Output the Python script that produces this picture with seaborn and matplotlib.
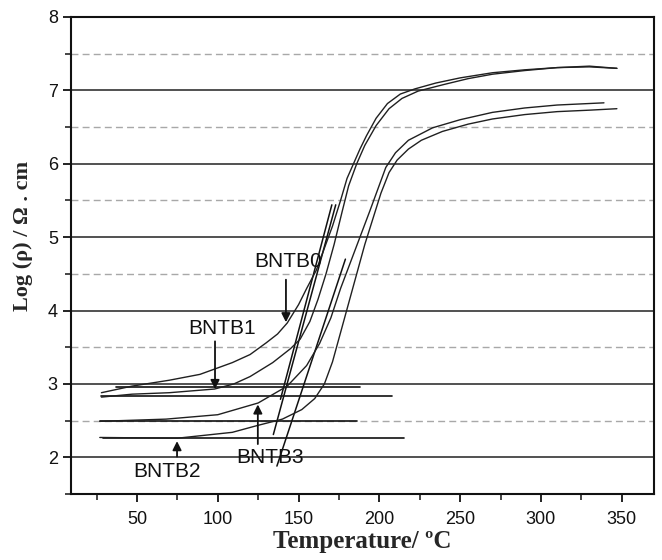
import numpy as np
import pandas as pd
import matplotlib
matplotlib.use('Agg')
import matplotlib.pyplot as plt
import seaborn as sns
from matplotlib.ticker import MultipleLocator

# ---- data ----
b0_T = [28, 47, 70, 89, 109, 120, 130, 137, 143, 150, 155, 161, 166, 171, 176, 180, 184, 188, 192, 198, 205, 213, 222, 235, 250, 270, 290, 310, 330, 347]
b0_R = [2.88, 2.97, 3.05, 3.13, 3.29, 3.40, 3.56, 3.68, 3.83, 4.08, 4.30, 4.55, 4.85, 5.15, 5.50, 5.80, 6.00, 6.20, 6.38, 6.62, 6.82, 6.95, 7.02, 7.10, 7.17, 7.24, 7.28, 7.31, 7.32, 7.30]

b1_T = [28, 47, 70, 98, 110, 120, 134, 145, 151, 157, 162, 167, 172, 177, 181, 186, 191, 198, 206, 214, 224, 240, 255, 270, 290, 310, 330, 347]
b1_R = [2.82, 2.86, 2.88, 2.93, 3.00, 3.10, 3.29, 3.48, 3.61, 3.85, 4.15, 4.50, 4.90, 5.35, 5.70, 6.00, 6.25, 6.52, 6.75, 6.89, 6.99, 7.08, 7.16, 7.22, 7.27, 7.31, 7.33, 7.30]

b3_T = [27, 68, 100, 125, 143, 155, 163, 170, 176, 182, 188, 194, 199, 204, 210, 218, 233, 250, 270, 290, 310, 339]
b3_R = [2.49, 2.52, 2.58, 2.74, 2.97, 3.25, 3.55, 3.90, 4.30, 4.65, 5.00, 5.35, 5.65, 5.95, 6.15, 6.32, 6.49, 6.60, 6.70, 6.76, 6.80, 6.83]

b2_T = [27, 75, 109, 124, 140, 152, 160, 166, 171, 176, 181, 186, 191, 196, 201, 206, 211, 218, 226, 239, 255, 270, 290, 310, 330, 347]
b2_R = [2.27, 2.26, 2.34, 2.43, 2.52, 2.65, 2.80, 3.00, 3.30, 3.70, 4.10, 4.50, 4.90, 5.25, 5.60, 5.88, 6.05, 6.20, 6.32, 6.44, 6.54, 6.61, 6.67, 6.71, 6.73, 6.75]

# horizontal base lines (start T, end T, level)
base_T0 = [37, 28, 27, 29]
base_T1 = [188, 208, 186, 215]
base_R = [2.96, 2.83, 2.49, 2.26]

# steep tangent lines (bottom T, top T, bottom R, top R)
tan_T0 = [138.8, 134.4, 136.6]
tan_T1 = [170.6, 173.0, 179.0]
tan_R0 = [2.79, 2.31, 1.88]
tan_R1 = [5.44, 5.44, 4.70]

labels = ['BNTB0', 'BNTB1', 'BNTB3', 'BNTB2']
label_T = [143.4, 102.6, 132.3, 68.6]
label_R = [4.67, 3.76, 2.00, 1.80]
arrow_T = [142.2, 98.3, 124.8, 74.8]
arrow_from = [4.42, 3.58, 2.18, 2.01]
arrow_to = [3.84, 2.93, 2.72, 2.22]

solid_levels = [2, 3, 4, 5, 6, 7]
dashed_levels = [2.5, 3.5, 4.5, 5.5, 6.5, 7.5]

# ---- plotting ----
sns.set_style('white')
plt.rcParams['font.family'] = ['Liberation Sans', 'DejaVu Sans']

fig = plt.figure(figsize=(6.62, 5.60), dpi=100)
ax = fig.add_axes([0.1073, 0.1179, 0.8807, 0.8518])

for lv in solid_levels:
    ax.axhline(lv, color='#222222', lw=1.1, zorder=1)
for lv in dashed_levels:
    ax.axhline(lv, color='#a8a8a8', lw=1.0, ls=(0, (5, 3)), zorder=1)

curve_col = '#202020'
for T, R in [(b0_T, b0_R), (b1_T, b1_R), (b3_T, b3_R), (b2_T, b2_R)]:
    sns.lineplot(x=T, y=R, ax=ax, color=curve_col, lw=1.0, sort=False,
                 estimator=None, legend=False, zorder=3)

for t0, t1, r in zip(base_T0, base_T1, base_R):
    sns.lineplot(x=[t0, t1], y=[r, r], ax=ax, color='#111111', lw=1.2,
                 sort=False, estimator=None, legend=False, zorder=2)

for t0, t1, r0, r1 in zip(tan_T0, tan_T1, tan_R0, tan_R1):
    sns.lineplot(x=[t0, t1], y=[r0, r1], ax=ax, color='#111111', lw=1.1,
                 sort=False, estimator=None, legend=False, zorder=2)

for lab, lt, lr, at, af, ato in zip(labels, label_T, label_R, arrow_T, arrow_from, arrow_to):
    ax.text(lt, lr, lab, fontsize=15, ha='center', va='center', color='#111111', zorder=5)
    ax.annotate('', xy=(at, ato), xytext=(at, af),
                arrowprops=dict(arrowstyle='-|>', color='#111111', lw=1.3,
                                mutation_scale=13, shrinkA=0, shrinkB=0), zorder=5)

ax.set_xlim(9.2, 370)
ax.set_ylim(1.5, 8)
ax.xaxis.set_minor_locator(MultipleLocator(25))
ax.yaxis.set_minor_locator(MultipleLocator(0.5))
ax.set_xticks([50, 100, 150, 200, 250, 300, 350])
ax.set_yticks([2, 3, 4, 5, 6, 7, 8])
ax.tick_params(axis='both', which='major', direction='out', length=6, width=1.3,
               labelsize=13, colors='#111111', bottom=True, left=True)
ax.tick_params(axis='both', which='minor', direction='out', length=4, width=1.2,
               bottom=True, left=True)
ax.tick_params(axis='x', pad=6)

for s in ax.spines.values():
    s.set_color('#111111')
    s.set_linewidth(1.5)

ax.set_xlabel('Temperature/ ºC', fontsize=18, fontweight='bold',
              family=['Liberation Serif', 'DejaVu Serif'])
ax.set_ylabel('Log (ρ) / Ω . cm', fontsize=16, fontweight='bold',
              family=['Liberation Serif', 'DejaVu Serif'])
ax.xaxis.set_label_coords(0.5, -0.076)
ax.yaxis.set_label_coords(-0.065, 0.54)

fig.savefig('out.png', dpi=100)
